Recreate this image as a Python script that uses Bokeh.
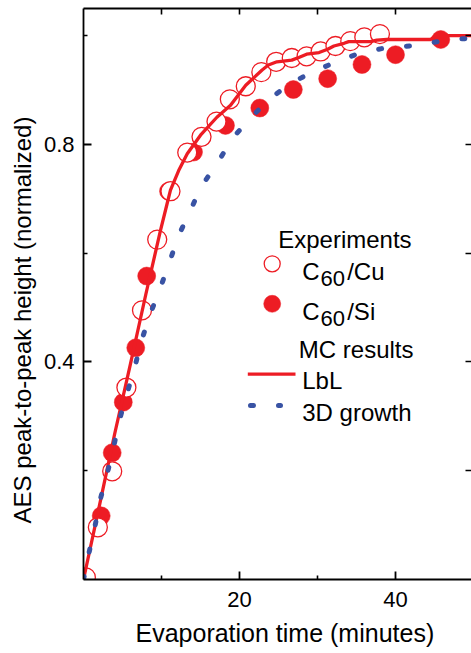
from bokeh.plotting import figure
from bokeh.models import Range1d, LinearAxis, FixedTicker, Label, Title
from bokeh.embed import file_html
from bokeh.resources import INLINE

# ---------------- data ----------------
# Experiments: C60/Cu (open circles)
cu_t = [0.3, 1.84, 3.68, 5.5, 7.5, 9.45, 11.15, 13.3, 15.13, 17.05, 18.76,
        20.8, 22.8, 24.7, 26.7, 28.6, 30.4, 32.3, 34.2, 36.0, 38.0]
cu_v = [0.004, 0.096, 0.199, 0.353, 0.495, 0.625, 0.714, 0.785, 0.814, 0.842, 0.883,
        0.907, 0.933, 0.952, 0.959, 0.962, 0.971, 0.981, 0.990, 0.997, 1.003]

# Experiments: C60/Si (filled circles)
si_t = [2.27, 3.68, 5.1, 6.7, 8.1, 10.9, 14.1, 18.2, 22.6, 26.9, 31.3, 35.7, 40.0, 45.8]
si_v = [0.117, 0.233, 0.326, 0.426, 0.558, 0.714, 0.786, 0.835, 0.867, 0.901, 0.921,
        0.947, 0.965, 0.993]

# MC results: layer-by-layer (solid red line)
lbl_t = [0.0, 2.0, 4.0, 6.0, 8.0, 9.87, 10.7, 11.15, 12.2, 13.3, 15.0, 17.1, 18.85,
         20.8, 22.9, 23.7, 24.8, 26.7, 27.6, 28.6, 30.2, 31.3, 32.1, 33.4, 34.0,
         36.8, 37.6, 38.9, 44.5, 45.1, 49.74]
lbl_v = [0.0, 0.133, 0.268, 0.395, 0.525, 0.642, 0.690, 0.716, 0.752, 0.783, 0.817,
         0.850, 0.872, 0.909, 0.937, 0.946, 0.952, 0.955, 0.960, 0.966, 0.969, 0.975,
         0.981, 0.986, 0.989, 0.989, 0.992, 0.993, 0.993, 1.0, 1.0]

# MC results: 3D growth (blue dotted line)
g3d_t = [0.0, 0.75, 1.5, 2.2, 3.1, 3.9, 4.6, 5.6, 6.6, 7.5, 8.6, 9.9, 11.1, 12.3,
         13.5, 15.0, 17.2, 19.2, 21.5, 23.8, 26.5, 29.6, 32.6, 35.4, 38.5, 40.4,
         43.6, 46.8, 49.74]
g3d_v = [0.0, 0.052, 0.100, 0.150, 0.198, 0.246, 0.293, 0.343, 0.392, 0.442, 0.490,
         0.538, 0.587, 0.636, 0.672, 0.720, 0.767, 0.813, 0.850, 0.883, 0.912, 0.935,
         0.953, 0.968, 0.977, 0.979, 0.984, 0.993, 0.995]

x_major = [20, 40]
x_minor = [10, 30, 50]
y_major = [0.4, 0.8]
y_minor = [0.2, 0.6, 1.0]
x_frame_ticks = [10, 20, 30, 40]          # ticks on the top frame edge
y_frame_ticks = [0.2, 0.4, 0.6, 0.8, 1.0]  # ticks on the right frame edge

x_title = "Evaporation time (minutes)"
y_title = "AES peak-to-peak height (normalized)"

# ---------------- layout / style ----------------
W, H = 471, 653
LEFT, TOP, BOTTOM = 83, 8, 74
X_END, Y_END = 49.74, 1.05
FRAME_W = W - LEFT
FRAME_H = H - TOP - BOTTOM
FONT = "Liberation Sans"
RED = "#ED1C24"
BLUE = "#3953A4"


def dx(px):
    return (px - LEFT) * X_END / FRAME_W


def dy(py):
    return (H - BOTTOM - py) * Y_END / FRAME_H


p = figure(width=W, height=H, output_backend="svg", toolbar_location=None,
           x_range=Range1d(0, X_END), y_range=Range1d(0, Y_END),
           min_border_left=LEFT, min_border_right=0, min_border_top=TOP,
           min_border_bottom=BOTTOM)
p.outline_line_color = None
p.xgrid.grid_line_color = None
p.ygrid.grid_line_color = None
p.background_fill_color = "white"
p.border_fill_color = "white"


def style(ax, major, minor, standoff=9, minor_len=4):
    ax.ticker = FixedTicker(ticks=major, minor_ticks=minor)
    ax.axis_line_width = 1.8
    ax.axis_line_color = "black"
    ax.major_tick_in = 8
    ax.major_tick_out = 0
    ax.minor_tick_in = minor_len
    ax.minor_tick_out = 0
    ax.major_tick_line_width = 1.8
    ax.minor_tick_line_width = 1.6
    ax.major_tick_line_color = "black"
    ax.minor_tick_line_color = "black"
    ax.major_label_text_font = FONT
    ax.major_label_text_font_size = "22px"
    ax.major_label_text_color = "black"
    ax.major_label_standoff = standoff


style(p.xaxis[0], x_major, x_minor, 12)
style(p.yaxis[0], y_major, y_minor, 9)

# top and right frame edges: ticks only (minor ticks carry no labels)
top_ax = LinearAxis()
style(top_ax, [], x_frame_ticks, 0, 6)
p.add_layout(top_ax, "above")

right_ax = LinearAxis()
style(right_ax, [], y_frame_ticks, 0, 6)
right_ax.axis_line_color = None
p.add_layout(right_ax, "right")

# axis titles (offset measured from the frame's left / bottom edge)
p.add_layout(Title(text=x_title, text_font=FONT, text_font_size="25px",
                   text_font_style="normal", text_color="black", align="left",
                   offset=52, standoff=14), "below")
p.add_layout(Title(text=y_title, text_font=FONT, text_font_size="24px",
                   text_font_style="normal", text_color="black", align="left",
                   offset=56, standoff=10), "left")

# ---------------- data glyphs ----------------
p.scatter(si_t, si_v, marker="circle", size=18, fill_color=RED, line_color=RED, line_width=0.5)
p.scatter(cu_t, cu_v, marker="circle", size=19, fill_color="white", line_color=RED, line_width=1.3)
p.line(lbl_t, lbl_v, line_color=RED, line_width=3.3)
p.line(g3d_t, g3d_v, line_color=BLUE, line_width=5, line_dash="3 25", line_cap="round")

# ---------------- legend (hand made) ----------------
p.scatter([dx(271.7)], [dy(263.3)], marker="circle", size=16, fill_color="white",
          line_color=RED, line_width=1.3)
p.scatter([dx(271.7)], [dy(303.3)], marker="circle", size=17, fill_color=RED,
          line_color=RED, line_width=0.5)
p.line([dx(247.3), dx(295)], [dy(373.7)] * 2, line_color=RED, line_width=3.3)
p.line([dx(250), dx(280)], [dy(405)] * 2, line_color=BLUE, line_width=5,
       line_dash="3 25", line_cap="round")


def lab(px, py, text, size="24px"):
    p.add_layout(Label(x=dx(px), y=dy(py), text=text, text_font=FONT,
                       text_font_size=size, text_color="black", text_align="left",
                       text_baseline="alphabetic"))


lab(277.7, 239.3, "Experiments")
lab(301.7, 271.0, "C")
lab(320.0, 278.3, "60", size="22px")
lab(346.7, 271.0, "/Cu")
lab(301.7, 311.0, "C")
lab(320.0, 318.3, "60", size="22px")
lab(346.7, 311.0, "/Si")
lab(298.3, 349.0, "MC results")
lab(301.7, 380.0, "LbL")
lab(301.7, 411.7, "3D growth")

open("out.html", "w").write(file_html(p, INLINE))
